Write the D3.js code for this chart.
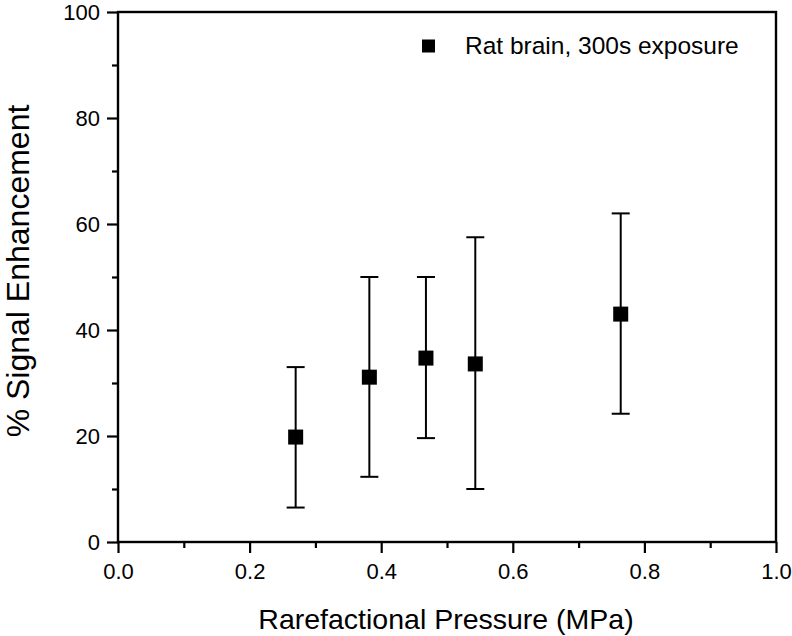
<!DOCTYPE html>
<html><head><meta charset="utf-8">
<script src="https://cdn.jsdelivr.net/npm/d3@7"></script>
<style>body{margin:0;background:#fff}svg{display:block}text{font-family:Arial,"Liberation Sans",sans-serif;fill:#000}</style>
</head><body><svg id="c" width="792" height="636"></svg>
<script>
const pressure = [0.270, 0.382, 0.468, 0.543, 0.764];
const enhancement = [19.8, 31.1, 34.7, 33.6, 43.0];
const errLow = [6.5, 12.3, 19.6, 10.0, 24.2];
const errHigh = [33.0, 50.0, 50.0, 57.5, 62.0];
const xTicks = [0, 0.2, 0.4, 0.6, 0.8, 1.0];
const yTicks = [0, 20, 40, 60, 80, 100];
const seriesName = "Rat brain, 300s exposure";

const svg = d3.select("#c");
const L = 118, R = 776, T = 12, B = 542;
const x = d3.scaleLinear().domain([0, 1]).range([L, R]);
const y = d3.scaleLinear().domain([0, 100]).range([B, T]);

// minor ticks
const xMinor = d3.range(0.1, 1.0, 0.2);
const yMinor = d3.range(10, 100, 20);
svg.append("g").attr("transform", `translate(0,${B})`)
  .call(d3.axisBottom(x).tickValues(xMinor).tickSize(6).tickFormat(""))
  .call(g => g.select(".domain").remove())
  .selectAll("line").attr("stroke", "#000").attr("stroke-width", 2.2);
svg.append("g").attr("transform", `translate(${L},0)`)
  .call(d3.axisLeft(y).tickValues(yMinor).tickSize(6).tickFormat(""))
  .call(g => g.select(".domain").remove())
  .selectAll("line").attr("stroke", "#000").attr("stroke-width", 2.2);

const gx = svg.append("g").attr("transform", `translate(0,${B})`)
  .call(d3.axisBottom(x).tickValues(xTicks).tickSize(11).tickPadding(10).tickFormat(d3.format(".1f")));
gx.select(".domain").remove();
gx.selectAll("line").attr("stroke", "#000").attr("stroke-width", 2.2);
gx.selectAll("text").attr("font-size", 22).attr("fill", "#000");

const gy = svg.append("g").attr("transform", `translate(${L},0)`)
  .call(d3.axisLeft(y).tickValues(yTicks).tickSize(11).tickPadding(7).tickFormat(d3.format("d")));
gy.select(".domain").remove();
gy.selectAll("line").attr("stroke", "#000").attr("stroke-width", 2.2);
gy.selectAll("text").attr("font-size", 22).attr("fill", "#000");

// frame
svg.append("rect").attr("x", L).attr("y", T).attr("width", R - L).attr("height", B - T)
  .attr("fill", "none").attr("stroke", "#000").attr("stroke-width", 2.4);

// error bars
const data = pressure.map((p, i) => ({p, v: enhancement[i], lo: errLow[i], hi: errHigh[i]}));
const eb = svg.append("g").attr("stroke", "#000").attr("stroke-width", 2);
eb.selectAll("line.v").data(data).join("line").attr("class", "v")
  .attr("x1", d => x(d.p)).attr("x2", d => x(d.p)).attr("y1", d => y(d.lo)).attr("y2", d => y(d.hi));
eb.selectAll("line.t").data(data).join("line").attr("class", "t")
  .attr("x1", d => x(d.p) - 9).attr("x2", d => x(d.p) + 9).attr("y1", d => y(d.hi)).attr("y2", d => y(d.hi));
eb.selectAll("line.b").data(data).join("line").attr("class", "b")
  .attr("x1", d => x(d.p) - 9).attr("x2", d => x(d.p) + 9).attr("y1", d => y(d.lo)).attr("y2", d => y(d.lo));

// markers
const S = 15;
svg.append("g").selectAll("rect").data(data).join("rect")
  .attr("x", d => x(d.p) - S / 2).attr("y", d => y(d.v) - S / 2)
  .attr("width", S).attr("height", S).attr("fill", "#000");

// legend
svg.append("rect").attr("x", 422).attr("y", 39.5).attr("width", 13).attr("height", 13).attr("fill", "#000");
svg.append("text").attr("x", 465).attr("y", 54).attr("font-size", 24.5).text(seriesName);

// titles
svg.append("text").attr("x", 446).attr("y", 629).attr("text-anchor", "middle")
  .attr("font-size", 28.5).text("Rarefactional Pressure (MPa)");
svg.append("text").attr("transform", `translate(29,271) rotate(-90)`)
  .attr("text-anchor", "middle").attr("font-size", 32).text("% Signal Enhancement");
</script></body></html>
